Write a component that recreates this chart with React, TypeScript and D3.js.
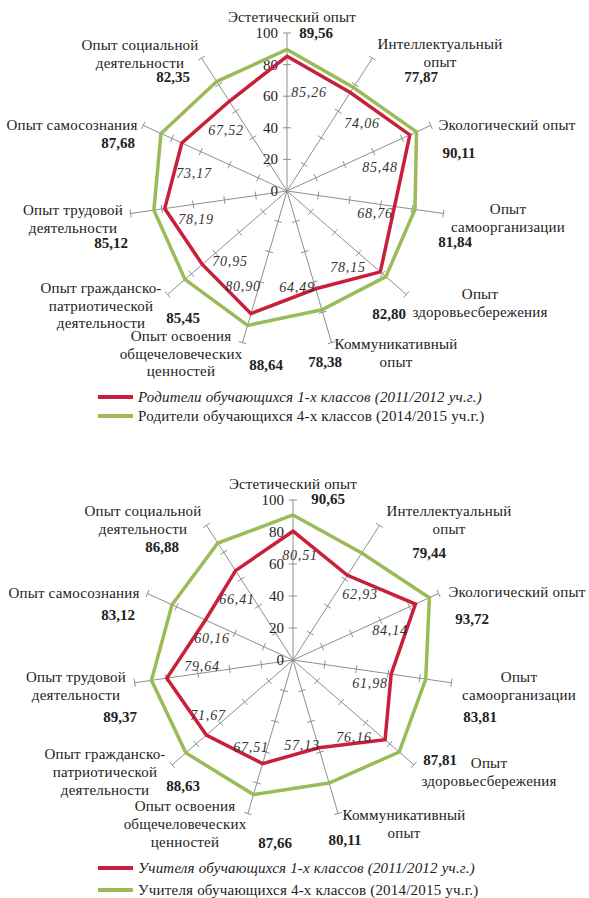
import React from "react";
import * as d3 from "d3";

// ---------- DATA ----------
const categories: string[][] = [
  ["Эстетический опыт"],
  ["Интеллектуальный", "опыт"],
  ["Экологический опыт"],
  ["Опыт", "самоорганизации"],
  ["Опыт", "здоровьесбережения"],
  ["Коммуникативный", "опыт"],
  ["Опыт освоения", "общечеловеческих", "ценностей"],
  ["Опыт гражданско-", "патриотической", "деятельности"],
  ["Опыт трудовой", "деятельности"],
  ["Опыт самосознания"],
  ["Опыт социальной", "деятельности"],
];

const tickValues = [0, 20, 40, 60, 80, 100];

const parents1 = [85.26, 74.06, 85.48, 68.76, 78.15, 64.49, 80.9, 70.95, 78.19, 73.17, 67.52];
const parents4 = [89.56, 77.87, 90.11, 81.84, 82.8, 78.38, 88.64, 85.45, 85.12, 87.68, 82.35];
const teachers1 = [80.51, 62.93, 84.14, 61.98, 76.16, 57.13, 67.51, 71.67, 79.64, 60.16, 66.41];
const teachers4 = [90.65, 79.44, 93.72, 83.81, 87.81, 80.11, 87.66, 88.63, 89.37, 83.12, 86.88];

const legend1 = [
  "Родители обучающихся 1-х классов (2011/2012 уч.г.)",
  "Родители обучающихся 4-х классов (2014/2015 уч.г.)",
];
const legend2 = [
  "Учителя обучающихся 1-х классов (2011/2012 уч.г.)",
  "Учителя обучающихся 4-х классов (2014/2015 уч.г.)",
];

// ---------- LAYOUT (label positions: [x, y]) ----------
const catPos1: [number, number][] = [
  [292, 22], [440, 49], [507, 130], [508, 214], [480, 299], [396, 349],
  [181, 341], [101, 293], [73, 215], [72, 130], [140, 50],
];
const valPos1: [number, number][] = [
  [316, 38], [421, 82], [459, 158], [455, 247], [389, 319], [325, 367],
  [266, 370], [183, 323], [111, 248], [118, 148], [173, 82],
];
const redPos1: [number, number][] = [
  [309, 97], [362, 128], [380, 172], [375, 218], [348, 272], [297, 292],
  [243, 291], [230, 266], [196, 224], [194, 178], [226, 135],
];

const catPos2: [number, number][] = [
  [293, 489], [449, 516], [517, 597], [519, 682], [489, 768], [404, 820],
  [185, 811], [105, 759], [76, 682], [74, 598], [143, 516],
];
const valPos2: [number, number][] = [
  [328, 504], [429, 558], [472, 624], [480, 722], [440, 765], [345, 845],
  [275, 848], [183, 791], [120, 722], [118, 620], [162, 552],
];
const redPos2: [number, number][] = [
  [300, 560], [360, 599], [390, 635], [370, 688], [354, 742], [302, 750],
  [251, 752], [208, 720], [202, 671], [212, 643], [237, 604],
];

const RED = "#C8203A";
const GREEN = "#9BBB59";
const AXIS = "#8f8f8f";
const TEXT = "#222";
const FONT = "'Liberation Serif', 'Times New Roman', serif";

const fmt = (v: number) => v.toFixed(2).replace(".", ",");

type RadarProps = {
  cx: number;
  cy: number;
  r: number;
  a: number[];
  b: number[];
  catPos: [number, number][];
  valPos: [number, number][];
  redPos: [number, number][];
  lineH: number;
  legend: string[];
  legendY: number[];
};

function Radar({ cx, cy, r, a, b, catPos, valPos, redPos, lineH, legend, legendY }: RadarProps) {
  const n = categories.length;
  const rScale = d3.scaleLinear().domain([0, 100]).range([0, r]);
  const angle = d3.scaleLinear().domain([0, n]).range([0, 2 * Math.PI]);
  const radial = d3
    .lineRadial<number>()
    .angle((_, i) => angle(i))
    .radius((d) => rScale(d))
    .curve(d3.curveLinearClosed);

  const axisTicks = tickValues.filter((t) => t > 0);

  return (
    <g>
      {/* axes */}
      {categories.map((_, i) => {
        const ang = angle(i);
        const dx = Math.sin(ang);
        const dy = -Math.cos(ang);
        const px = Math.cos(ang);
        const py = Math.sin(ang);
        const R = rScale(100);
        return (
          <g key={"ax" + i}>
            <line x1={cx} y1={cy} x2={cx + dx * R} y2={cy + dy * R} stroke={AXIS} strokeWidth={1} />
            {axisTicks.map((t) => {
              const rr = rScale(t);
              const x = cx + dx * rr;
              const y = cy + dy * rr;
              return (
                <line
                  key={t}
                  x1={x - px * 4}
                  y1={y - py * 4}
                  x2={x + px * 4}
                  y2={y + py * 4}
                  stroke={AXIS}
                  strokeWidth={1}
                />
              );
            })}
          </g>
        );
      })}
      {/* tick labels */}
      {tickValues.map((t) => (
        <text
          key={"tl" + t}
          x={cx - 9}
          y={cy - rScale(t) + 5}
          textAnchor="end"
          fontSize={15}
          fill={TEXT}
          fontFamily={FONT}
        >
          {t}
        </text>
      ))}
      {/* series */}
      <path d={radial(b) || ""} transform={`translate(${cx},${cy})`} fill="none" stroke={GREEN} strokeWidth={3.5} strokeLinejoin="miter" />
      <path d={radial(a) || ""} transform={`translate(${cx},${cy})`} fill="none" stroke={RED} strokeWidth={3.5} strokeLinejoin="miter" />
      {/* red italic labels */}
      {a.map((v, i) => (
        <text
          key={"rl" + i}
          x={redPos[i][0]}
          y={redPos[i][1]}
          textAnchor="middle"
          fontSize={14}
          fontStyle="italic"
          letterSpacing={0.8}
          fill="#333"
          fontFamily={FONT}
        >
          {fmt(v)}
        </text>
      ))}
      {/* category labels */}
      {categories.map((lines, i) => (
        <text key={"cl" + i} textAnchor="middle" fontSize={15} letterSpacing={0.2} fill={TEXT} fontFamily={FONT}>
          {lines.map((ln, j) => (
            <tspan key={j} x={catPos[i][0]} y={catPos[i][1] + j * lineH}>
              {ln}
            </tspan>
          ))}
        </text>
      ))}
      {/* green bold values */}
      {b.map((v, i) => (
        <text
          key={"vl" + i}
          x={valPos[i][0]}
          y={valPos[i][1]}
          textAnchor="middle"
          fontSize={15}
          fontWeight="bold"
          fill={TEXT}
          fontFamily={FONT}
        >
          {fmt(v)}
        </text>
      ))}
      {/* legend */}
      {legend.map((txt, i) => (
        <g key={"lg" + i}>
          <line x1={98} x2={133} y1={legendY[i]} y2={legendY[i]} stroke={i === 0 ? RED : GREEN} strokeWidth={4} />
          <text
            x={138}
            y={legendY[i] + 5}
            fontSize={15}
            letterSpacing={0.2}
            fontStyle={i === 0 ? "italic" : "normal"}
            fill={TEXT}
            fontFamily={FONT}
          >
            {txt}
          </text>
        </g>
      ))}
    </g>
  );
}

export default function App() {
  return (
    <svg
      width={589}
      height={898}
      style={{ position: "absolute", left: 0, top: 0, background: "#fff" }}
    >
      <rect width={589} height={898} fill="#fff" />
      <Radar
        cx={287}
        cy={191}
        r={158}
        a={parents1}
        b={parents4}
        catPos={catPos1}
        valPos={valPos1}
        redPos={redPos1}
        lineH={17.5}
        legend={legend1}
        legendY={[397, 416]}
      />
      <Radar
        cx={293}
        cy={660}
        r={160}
        a={teachers1}
        b={teachers4}
        catPos={catPos2}
        valPos={valPos2}
        redPos={redPos2}
        lineH={18}
        legend={legend2}
        legendY={[868, 890]}
      />
    </svg>
  );
}
